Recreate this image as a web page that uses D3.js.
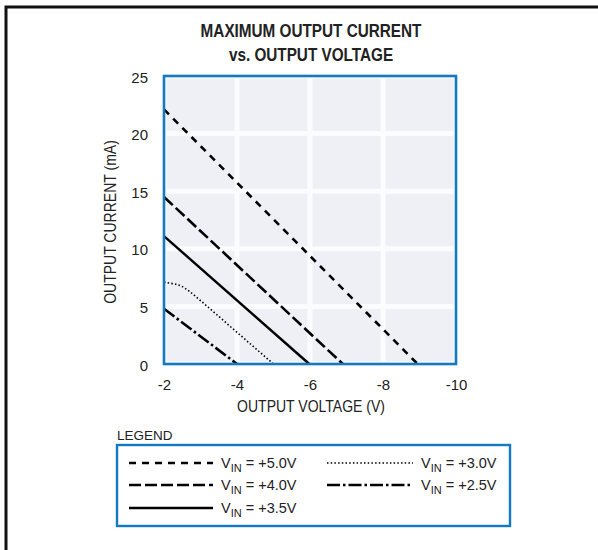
<!DOCTYPE html>
<html>
<head>
<meta charset="utf-8">
<script src="https://cdn.jsdelivr.net/npm/d3@7"></script>
<style>
  body { margin: 0; background: #fff; }
  svg text { font-family: "Liberation Sans", Arial, sans-serif; fill: #222; }
</style>
</head>
<body>
<svg width="598" height="550"></svg>
<script>
// data
const xTicks = [-2, -4, -6, -8, -10]
const yTicks = [0, 5, 10, 15, 20, 25]
const vin50 = [[-2, 22.1], [-8.95, 0]]
const vin40 = [[-2, 14.5], [-6.9, 0]]
const vin35 = [[-2, 11.1], [-5.98, 0]]
const vin30 = [[-2, 7.1], [-2.2, 7.0], [-2.45, 6.8], [-2.7, 6.3], [-3, 5.5], [-4, 2.75], [-5, 0]]
const vin25 = [[-2, 4.8], [-4, 0]]
const legendLabels = ["+5.0V", "+4.0V", "+3.5V", "+3.0V", "+2.5V"]

const series = [
  { pts: vin50, dash: "7,6", w: 2.6 },
  { pts: vin40, dash: "12,4", w: 2.6 },
  { pts: vin35, dash: null, w: 2.4 },
  { pts: vin30, dash: "1.5,2.2", w: 1.6 },
  { pts: vin25, dash: "13,3,2.5,3", w: 2.6 }
]

const svg = d3.select("svg")
const x = d3.scaleLinear().domain([-2, -10]).range([164, 456])
const y = d3.scaleLinear().domain([0, 25]).range([364, 76])

// narrow text: no condensed font here, so squeeze horizontally
function narrow(px, py, sx, size, txt, rot) {
  const g = svg.append("g").attr("transform", `translate(${px},${py})` + (rot ? ` rotate(${rot})` : "") + ` scale(${sx},1)`)
  return g.append("text").attr("text-anchor", "middle").attr("font-size", size).text(txt)
}

// outer frame (only top and left show)
svg.append("path").attr("d", "M6,552 V7 H600").attr("fill", "none").attr("stroke", "#111").attr("stroke-width", 3)

// title
narrow(311, 37, 0.85, 18, "MAXIMUM OUTPUT CURRENT").attr("font-weight", "bold")
narrow(311, 61, 0.85, 18, "vs. OUTPUT VOLTAGE").attr("font-weight", "bold")

// plot background and grid
svg.append("rect").attr("x", x(-2)).attr("y", y(25)).attr("width", x(-10) - x(-2)).attr("height", y(0) - y(25)).attr("fill", "#eff0f6")
const grid = svg.append("g").attr("stroke", "#fbfcfe").attr("stroke-width", 5)
grid.selectAll(".gx").data(xTicks).enter().append("line")
  .attr("x1", d => x(d)).attr("x2", d => x(d)).attr("y1", y(0)).attr("y2", y(25))
grid.selectAll(".gy").data(yTicks).enter().append("line")
  .attr("x1", x(-2)).attr("x2", x(-10)).attr("y1", d => y(d)).attr("y2", d => y(d))

// curves
const line = d3.line().x(d => x(d[0])).y(d => y(d[1])).curve(d3.curveMonotoneX)
series.forEach(s => {
  svg.append("path").datum(s.pts).attr("d", line)
    .attr("fill", "none").attr("stroke", "#000").attr("stroke-width", s.w)
    .attr("stroke-dasharray", s.dash)
})

svg.append("rect").attr("x", x(-2)).attr("y", y(25)).attr("width", x(-10) - x(-2)).attr("height", y(0) - y(25))
  .attr("fill", "none").attr("stroke", "#1279c2").attr("stroke-width", 2.6)

// axes
const xAxis = svg.append("g").attr("transform", `translate(0,${y(0) + 12})`)
  .call(d3.axisBottom(x).tickValues(xTicks).tickSize(0).tickFormat(d => String(d)))
const yAxis = svg.append("g").attr("transform", `translate(${x(-2) - 13},0)`)
  .call(d3.axisLeft(y).tickValues(yTicks).tickSize(0))
;[xAxis, yAxis].forEach(a => {
  a.select(".domain").remove()
  a.selectAll("text").attr("font-size", 15).attr("font-family", null).attr("fill", "#222")
})
yAxis.selectAll("text").attr("dy", "0.4em")

narrow(311, 412, 0.85, 16.5, "OUTPUT VOLTAGE (V)")
narrow(116, 222, 0.85, 16.5, "OUTPUT CURRENT (mA)", -90)

// legend
svg.append("text").attr("x", 117).attr("y", 440).attr("font-size", 13.5).text("LEGEND")
svg.append("rect").attr("x", 117).attr("y", 445).attr("width", 393).attr("height", 81)
  .attr("fill", "none").attr("stroke", "#1279c2").attr("stroke-width", 2.4)
const lpos = [[129, 463], [129, 485], [129, 508], [327, 463], [327, 485]]
series.forEach((s, i) => {
  const [lx, ly] = lpos[i]
  const lw = i < 3 ? 84 : 86
  svg.append("line").attr("x1", lx).attr("x2", lx + lw).attr("y1", ly).attr("y2", ly)
    .attr("stroke", "#000").attr("stroke-width", s.w).attr("stroke-dasharray", s.dash)
  const t = svg.append("text").attr("x", lx + lw + 8).attr("y", ly + 5).attr("font-size", 14.5)
  t.append("tspan").text("V")
  t.append("tspan").attr("font-size", 11).attr("dy", 4).text("IN")
  t.append("tspan").attr("dy", -4).text(" = " + legendLabels[i])
})
</script>
</body>
</html>
